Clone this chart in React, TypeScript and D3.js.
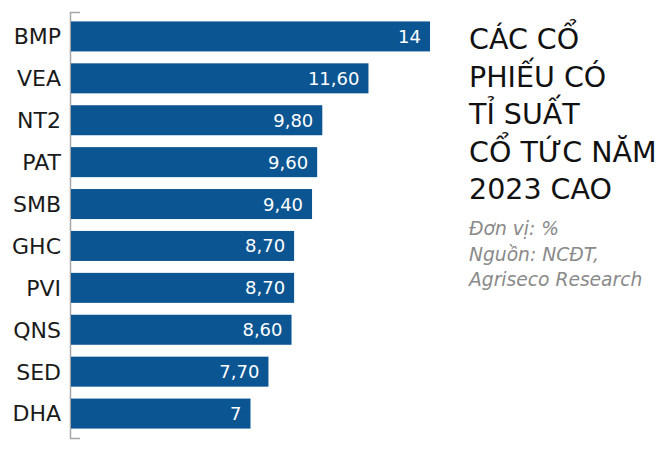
import React from "react";
import * as d3 from "d3";

const categories = ["BMP", "VEA", "NT2", "PAT", "SMB", "GHC", "PVI", "QNS", "SED", "DHA"];
const values = [14, 11.6, 9.8, 9.6, 9.4, 8.7, 8.7, 8.6, 7.7, 7];
const valueLabels = ["14", "11,60", "9,80", "9,60", "9,40", "8,70", "8,70", "8,60", "7,70", "7"];
const titleLines = ["CÁC CỔ", "PHIẾU CÓ", "TỈ SUẤT", "CỔ TỨC NĂM", "2023 CAO"];
const noteLines = ["Đơn vị: %", "Nguồn: NCĐT,", "Agriseco Research"];

const W = 669;
const H = 454;
const FONT = "'DejaVu Sans', sans-serif";

export default function App() {
  const x0 = 71;
  const x = d3.scaleLinear().domain([0, 14]).range([x0, 430]);
  const y = d3
    .scaleBand<string>()
    .domain(categories)
    .range([12, 438])
    .paddingInner(0.284)
    .paddingOuter(0.225);

  return (
    <svg
      width={W}
      height={H}
      style={{ position: "absolute", left: 0, top: 0, background: "#fff" }}
    >
      <rect width={W} height={H} fill="#fff" />
      {/* axis */}
      <path d={`M80,12.5 H70.5 V438.5 H80`} fill="none" stroke="#a6a6a6" strokeWidth={1.5} />
      {categories.map((c, i) => {
        const yy = y(c)!;
        const bw = y.bandwidth();
        return (
          <g key={c}>
            <rect x={x(0)} y={yy} width={x(values[i]) - x(0)} height={bw} fill="#0b5592" />
            <text
              x={61}
              y={yy + bw / 2}
              dy="0.36em"
              textAnchor="end"
              fontFamily={FONT}
              fontSize={22}
              fill="#1a1a1a"
            >
              {c}
            </text>
            <text
              x={x(values[i]) - 9}
              y={yy + bw / 2}
              dy="0.36em"
              textAnchor="end"
              fontFamily={FONT}
              fontSize={18}
              fill="#fff"
            >
              {valueLabels[i]}
            </text>
          </g>
        );
      })}
      {titleLines.map((t, i) => (
        <text
          key={t}
          x={469}
          y={49 + i * 37.5}
          fontFamily={FONT}
          fontSize={28.5}
          fill="#111"
        >
          {t}
        </text>
      ))}
      {noteLines.map((t, i) => (
        <text
          key={t}
          x={469}
          y={235 + i * 25.5}
          fontFamily={FONT}
          fontStyle="italic"
          fontSize={18.7}
          fill="#8a8a8a"
        >
          {t}
        </text>
      ))}
    </svg>
  );
}
